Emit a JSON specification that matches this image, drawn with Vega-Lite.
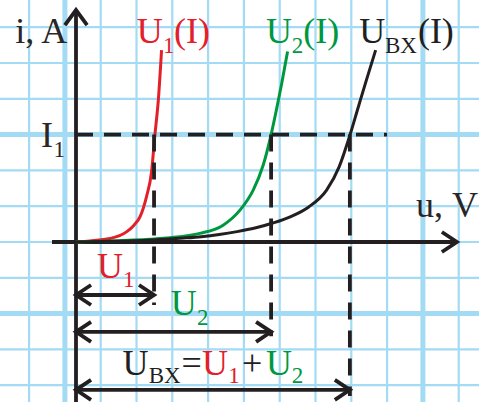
{
  "$schema": "https://vega.github.io/schema/vega-lite/v6.json",
  "width": 479,
  "height": 402,
  "autosize": {"type": "fit", "contains": "padding"},
  "padding": 0,
  "background": "white",
  "view": {"stroke": null},
  "config": {"font": "Liberation Serif"},
  "datasets": {
    "vgrid": [
      {"gx": -1.31, "kind": "minor"}, {"gx": -0.31, "kind": "major"}, {"gx": 0.69, "kind": "minor"},
      {"gx": 1.69, "kind": "minor"}, {"gx": 2.69, "kind": "minor"}, {"gx": 3.69, "kind": "minor"},
      {"gx": 4.69, "kind": "minor"}, {"gx": 5.69, "kind": "minor"}, {"gx": 6.69, "kind": "minor"},
      {"gx": 7.69, "kind": "minor"}, {"gx": 8.69, "kind": "minor"}, {"gx": 9.69, "kind": "major"},
      {"gx": 10.69, "kind": "minor"}
    ],
    "hgrid": [
      {"gy": -4, "kind": "minor"}, {"gy": -3, "kind": "minor"}, {"gy": -2, "kind": "major"},
      {"gy": -1, "kind": "minor"}, {"gy": 0, "kind": "minor"}, {"gy": 1, "kind": "minor"},
      {"gy": 2, "kind": "minor"}, {"gy": 3, "kind": "major"}, {"gy": 4, "kind": "minor"},
      {"gy": 5, "kind": "minor"}, {"gy": 6, "kind": "minor"}
    ],
    "solid": [
      {"x": -0.67, "y": 0, "x2": 10.64, "y2": 0},
      {"x": 0, "y": -4.7, "x2": 0, "y2": 6.48},
      {"x": 0, "y": -1.48, "x2": 2.18, "y2": -1.48},
      {"x": 0, "y": -2.51, "x2": 5.45, "y2": -2.51},
      {"x": 0, "y": -4.13, "x2": 7.65, "y2": -4.13}
    ],
    "dashed": [
      {"x": 0, "y": 3, "x2": 8.69, "y2": 3},
      {"x": 2.18, "y": 3, "x2": 2.18, "y2": -1.76},
      {"x": 5.45, "y": 3, "x2": 5.45, "y2": -2.63},
      {"x": 7.65, "y": 3, "x2": 7.65, "y2": -4.3}
    ],
    "heads": [
      {"id": "xa", "k": 1, "x": 10.22, "y": 0.28}, {"id": "xa", "k": 2, "x": 10.64, "y": 0}, {"id": "xa", "k": 3, "x": 10.22, "y": -0.28},
      {"id": "ya", "k": 1, "x": -0.31, "y": 6.06}, {"id": "ya", "k": 2, "x": 0, "y": 6.48}, {"id": "ya", "k": 3, "x": 0.31, "y": 6.06},
      {"id": "a1l", "k": 1, "x": 0.42, "y": -1.2}, {"id": "a1l", "k": 2, "x": 0, "y": -1.48}, {"id": "a1l", "k": 3, "x": 0.42, "y": -1.76},
      {"id": "a1r", "k": 1, "x": 1.76, "y": -1.2}, {"id": "a1r", "k": 2, "x": 2.18, "y": -1.48}, {"id": "a1r", "k": 3, "x": 1.76, "y": -1.76},
      {"id": "a2l", "k": 1, "x": 0.42, "y": -2.23}, {"id": "a2l", "k": 2, "x": 0, "y": -2.51}, {"id": "a2l", "k": 3, "x": 0.42, "y": -2.79},
      {"id": "a2r", "k": 1, "x": 5.03, "y": -2.23}, {"id": "a2r", "k": 2, "x": 5.45, "y": -2.51}, {"id": "a2r", "k": 3, "x": 5.03, "y": -2.79},
      {"id": "a3l", "k": 1, "x": 0.42, "y": -3.85}, {"id": "a3l", "k": 2, "x": 0, "y": -4.13}, {"id": "a3l", "k": 3, "x": 0.42, "y": -4.41},
      {"id": "a3r", "k": 1, "x": 7.23, "y": -3.85}, {"id": "a3r", "k": 2, "x": 7.65, "y": -4.13}, {"id": "a3r", "k": 3, "x": 7.23, "y": -4.41}
    ],
    "curves": [
      {"s": "U1", "u": 0, "i": 0}, {"s": "U1", "u": 0.39, "i": 0.03}, {"s": "U1", "u": 0.95, "i": 0.1},
      {"s": "U1", "u": 1.2, "i": 0.17}, {"s": "U1", "u": 1.42, "i": 0.29}, {"s": "U1", "u": 1.62, "i": 0.47},
      {"s": "U1", "u": 1.79, "i": 0.71}, {"s": "U1", "u": 1.97, "i": 1.27}, {"s": "U1", "u": 2.11, "i": 1.96},
      {"s": "U1", "u": 2.2, "i": 2.95}, {"s": "U1", "u": 2.3, "i": 3.97}, {"s": "U1", "u": 2.39, "i": 5.36},
      {"s": "U2", "u": 0, "i": 0}, {"s": "U2", "u": 1.0, "i": 0.03}, {"s": "U2", "u": 2.07, "i": 0.08},
      {"s": "U2", "u": 2.63, "i": 0.12}, {"s": "U2", "u": 3.46, "i": 0.24}, {"s": "U2", "u": 4.11, "i": 0.47},
      {"s": "U2", "u": 4.58, "i": 0.89}, {"s": "U2", "u": 4.95, "i": 1.45}, {"s": "U2", "u": 5.23, "i": 2.15},
      {"s": "U2", "u": 5.45, "i": 3.0}, {"s": "U2", "u": 5.6, "i": 3.7}, {"s": "U2", "u": 5.75, "i": 4.45},
      {"s": "U2", "u": 5.91, "i": 5.32},
      {"s": "UBX", "u": 0, "i": 0}, {"s": "UBX", "u": 1.0, "i": 0.02}, {"s": "UBX", "u": 2.0, "i": 0.05},
      {"s": "UBX", "u": 3.0, "i": 0.11}, {"s": "UBX", "u": 3.5, "i": 0.15}, {"s": "UBX", "u": 4.0, "i": 0.21},
      {"s": "UBX", "u": 4.5, "i": 0.29}, {"s": "UBX", "u": 5.0, "i": 0.39}, {"s": "UBX", "u": 5.5, "i": 0.53},
      {"s": "UBX", "u": 6.0, "i": 0.71}, {"s": "UBX", "u": 6.5, "i": 0.98}, {"s": "UBX", "u": 7.0, "i": 1.45},
      {"s": "UBX", "u": 7.35, "i": 2.1}, {"s": "UBX", "u": 7.65, "i": 2.98}, {"s": "UBX", "u": 7.88, "i": 3.75},
      {"s": "UBX", "u": 8.12, "i": 4.55}, {"s": "UBX", "u": 8.37, "i": 5.36}
    ],
    "labels": [
      {"x": -1.7, "y": 5.56, "t": "i, A", "s": "axis", "part": "main"},
      {"x": 9.5, "y": 0.7, "t": "u,", "s": "axis", "part": "main"},
      {"x": 10.5, "y": 0.7, "t": "V", "s": "axis", "part": "main"},
      {"x": -0.98, "y": 2.65, "t": "I", "s": "axis", "part": "main"},
      {"x": -0.63, "y": 2.38, "t": "1", "s": "axis", "part": "sub"},
      {"x": 1.7, "y": 5.55, "t": "U", "s": "U1", "part": "main"},
      {"x": 2.43, "y": 5.27, "t": "1", "s": "U1", "part": "sub"},
      {"x": 2.74, "y": 5.55, "t": "(I)", "s": "U1", "part": "main"},
      {"x": 5.31, "y": 5.55, "t": "U", "s": "U2", "part": "main"},
      {"x": 6.03, "y": 5.27, "t": "2", "s": "U2", "part": "sub"},
      {"x": 6.35, "y": 5.55, "t": "(I)", "s": "U2", "part": "main"},
      {"x": 7.91, "y": 5.55, "t": "U", "s": "UBX", "part": "main"},
      {"x": 8.63, "y": 5.27, "t": "BX", "s": "UBX", "part": "sub"},
      {"x": 9.55, "y": 5.55, "t": "(I)", "s": "UBX", "part": "main"},
      {"x": 0.59, "y": -1.01, "t": "U", "s": "U1", "part": "main"},
      {"x": 1.31, "y": -1.26, "t": "1", "s": "U1", "part": "sub"},
      {"x": 2.65, "y": -2.04, "t": "U", "s": "U2", "part": "main"},
      {"x": 3.38, "y": -2.32, "t": "2", "s": "U2", "part": "sub"},
      {"x": 1.3, "y": -3.72, "t": "U", "s": "UBX", "part": "main"},
      {"x": 2.03, "y": -3.95, "t": "BX", "s": "UBX", "part": "sub"},
      {"x": 2.95, "y": -3.72, "t": "=", "s": "UBX", "part": "main"},
      {"x": 3.52, "y": -3.72, "t": "U", "s": "U1", "part": "main"},
      {"x": 4.25, "y": -3.95, "t": "1", "s": "U1", "part": "sub"},
      {"x": 4.64, "y": -3.72, "t": "+", "s": "UBX", "part": "main"},
      {"x": 5.31, "y": -3.72, "t": "U", "s": "U2", "part": "main"},
      {"x": 6.03, "y": -3.95, "t": "2", "s": "U2", "part": "sub"}
    ]
  },
  "layer": [
    {
      "data": {"name": "vgrid"},
      "mark": {"type": "rule", "color": "#a3daf4", "clip": true},
      "encoding": {
        "x": {"field": "gx", "type": "quantitative", "scale": {"domain": [-2.123, 11.257], "nice": false, "zero": false}, "axis": null},
        "strokeWidth": {"field": "kind", "type": "nominal", "scale": {"domain": ["minor", "major"], "range": [2.2, 5]}, "legend": null}
      }
    },
    {
      "data": {"name": "hgrid"},
      "mark": {"type": "rule", "color": "#a3daf4", "clip": true},
      "encoding": {
        "y": {"field": "gy", "type": "quantitative", "scale": {"domain": [-4.469, 6.76], "nice": false, "zero": false}, "axis": null},
        "strokeWidth": {"field": "kind", "type": "nominal", "scale": {"domain": ["minor", "major"], "range": [2.2, 5]}, "legend": null}
      }
    },
    {
      "data": {"name": "solid"},
      "mark": {"type": "rule", "color": "#231f20", "strokeWidth": 3.8, "clip": true},
      "encoding": {
        "x": {"field": "x", "type": "quantitative"},
        "y": {"field": "y", "type": "quantitative"},
        "x2": {"field": "x2"},
        "y2": {"field": "y2"}
      }
    },
    {
      "data": {"name": "curves"},
      "mark": {"type": "line", "interpolate": "monotone", "strokeWidth": 3, "clip": true},
      "encoding": {
        "x": {"field": "u", "type": "quantitative"},
        "y": {"field": "i", "type": "quantitative"},
        "color": {"field": "s", "type": "nominal", "scale": {"domain": ["U1", "U2", "UBX", "axis"], "range": ["#e3202a", "#00983f", "#231f20", "#2a2627"]}, "legend": null}
      }
    },
    {
      "data": {"name": "dashed"},
      "mark": {"type": "rule", "color": "#231f20", "strokeWidth": 3.8, "strokeDash": [17, 11], "clip": true},
      "encoding": {
        "x": {"field": "x", "type": "quantitative"},
        "y": {"field": "y", "type": "quantitative"},
        "x2": {"field": "x2"},
        "y2": {"field": "y2"}
      }
    },
    {
      "data": {"name": "heads"},
      "mark": {"type": "line", "color": "#231f20", "strokeWidth": 3.8, "clip": true},
      "encoding": {
        "x": {"field": "x", "type": "quantitative"},
        "y": {"field": "y", "type": "quantitative"},
        "detail": {"field": "id", "type": "nominal"},
        "order": {"field": "k", "type": "quantitative"}
      }
    },
    {
      "data": {"name": "labels"},
      "mark": {"type": "text", "align": "left", "baseline": "alphabetic", "font": "Liberation Serif", "clip": true},
      "encoding": {
        "x": {"field": "x", "type": "quantitative"},
        "y": {"field": "y", "type": "quantitative"},
        "text": {"field": "t", "type": "nominal"},
        "color": {"field": "s", "type": "nominal", "scale": {"domain": ["U1", "U2", "UBX", "axis"], "range": ["#e3202a", "#00983f", "#231f20", "#2a2627"]}, "legend": null},
        "size": {"field": "part", "type": "nominal", "scale": {"domain": ["main", "sub"], "range": [36, 23]}, "legend": null}
      }
    }
  ]
}
